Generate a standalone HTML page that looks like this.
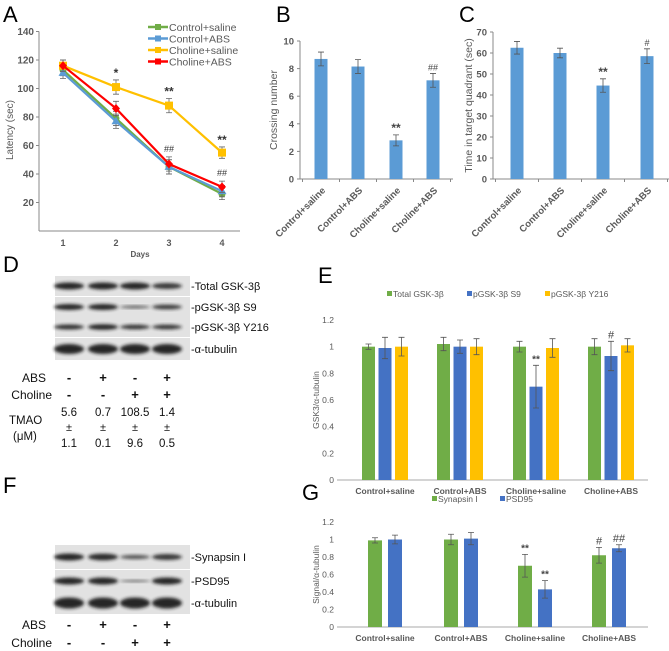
<!DOCTYPE html>
<html><head><meta charset="utf-8"><style>
html,body{margin:0;padding:0;background:#fff;}
svg{display:block;font-family:"Liberation Sans",Arial,sans-serif;}
</style></head><body>
<svg id="fig" width="669" height="651" viewBox="0 0 669 651">
<defs><filter id="blur" x="-20%" y="-50%" width="140%" height="200%"><feGaussianBlur stdDeviation="1.6"/></filter></defs>
<g font-size="22" fill="#000">
<text x="3" y="22">A</text>
<text x="276" y="22">B</text>
<text x="459" y="22">C</text>
<text x="3" y="272">D</text>
<text x="318" y="283">E</text>
<text x="3" y="493">F</text>
<text x="302" y="500">G</text>
</g>
<g id="gA"></g><g id="gB"></g><g id="gC"></g><g id="gD"></g><g id="gE"></g><g id="gF"></g><g id="gG"></g>
</svg>
<script>
// ---- Panel A data ----
const daysA = ["1","2","3","4"];
const ctrlSaline = [113, 79, 45, 26];
const ctrlABS = [111, 77, 45, 28];
const cholSaline = [116, 101, 88, 55];
const cholABS = [116, 86, 47, 31];
const errA = [4, 5, 5, 4];
const ticksA = [20,40,60,80,100,120,140];
// ---- Panel B/C ----
const groups = ["Control+saline","Control+ABS","Choline+saline","Choline+ABS"];
const crossing = [8.7, 8.15, 2.8, 7.15];
const crossingErr = [0.5, 0.5, 0.4, 0.5];
const crossingMarks = ["","","**","##"];
const ticksB = [0,2,4,6,8,10];
const timeQuad = [62.5, 60, 44.5, 58.5];
const timeQuadErr = [3, 2.3, 3.2, 3.5];
const timeMarks = ["","","**","#"];
const ticksC = [0,10,20,30,40,50,60,70];
// ---- Panel E ----
const totalGSK = [1.0, 1.02, 1.0, 1.0];
const totalGSKErr = [0.02, 0.05, 0.04, 0.06];
const pS9 = [0.99, 1.0, 0.7, 0.93];
const pS9Err = [0.08, 0.05, 0.16, 0.11];
const pY216 = [1.0, 1.0, 0.99, 1.01];
const pY216Err = [0.07, 0.06, 0.07, 0.05];
const s9Marks = ["","","**","#"];
const ticksE = [0,0.2,0.4,0.6,0.8,1,1.2];
// ---- Panel G ----
const synapsin = [0.99, 1.0, 0.7, 0.82];
const synapsinErr = [0.03, 0.06, 0.13, 0.09];
const psd95 = [1.0, 1.01, 0.43, 0.9];
const psd95Err = [0.05, 0.07, 0.1, 0.04];
const synMarks = ["","","**","#"];
const psdMarks = ["","","**","##"];
// ---- Panel D ----
const tmaoMean = ["5.6","0.7","108.5","1.4"];
const tmaoSD = ["1.1","0.1","9.6","0.5"];
const absSigns = ["-","+","-","+"];
const cholSigns = ["-","-","+","+"];

const NS="http://www.w3.org/2000/svg";
function mk(tag, parent, attrs, txt){
  const e=document.createElementNS(NS,tag);
  for(const k in attrs) e.setAttribute(k,attrs[k]);
  if(txt!==undefined) e.textContent=txt;
  parent.appendChild(e); return e;
}
const gray="#595959", axisc="#888";

// ===== Panel A =====
(function(){
  const g=document.getElementById('gA');
  const y0=231, ppu=28.5/20, x0=39, xEnd=240;
  const ya=v=>y0-v*ppu;
  const xa=i=>63+i*53;
  let e=mk('line',g,{x1:x0,y1:ya(140),x2:x0,y2:y0,stroke:axisc});
   
  e=mk('line',g,{x1:x0,y1:y0,x2:xEnd,y2:y0,stroke:axisc});
   
  ticksA.forEach(t=>{
    const tl=mk('text',g,{x:34,y:ya(t)+3.5,'font-size':10,'font-weight':'bold',fill:gray,'text-anchor':'end'},String(t));
     
    mk('line',g,{x1:x0-3,y1:ya(t),x2:x0,y2:ya(t),stroke:axisc});
  });
  daysA.forEach((d,i)=>{
    const tl=mk('text',g,{x:xa(i),y:246,'font-size':9,'font-weight':'bold',fill:gray,'text-anchor':'middle'},d);
     
  });
  e=mk('text',g,{x:140,y:257,'font-size':8,'font-weight':'bold',fill:gray,'text-anchor':'middle'},"Days");
   
  e=mk('text',g,{x:13,y:130,'font-size':10,fill:gray,'text-anchor':'middle',transform:'rotate(-90 13 130)'},"Latency (sec)");
   
  const series=[[ctrlSaline,'#70ad47','circle','control-saline'],[ctrlABS,'#5b9bd5','tri','control-abs'],[cholSaline,'#ffc000','square','choline-saline'],[cholABS,'#ff0000','diamond','choline-abs']];
  series.forEach(([vals,col,shape,nm])=>{
    const pts=vals.map((v,i)=>xa(i)+','+ya(v)).join(' ');
    const l=mk('polyline',g,{points:pts,fill:'none',stroke:col,'stroke-width':2.2});
     
    vals.forEach((v,i)=>{
      const x=xa(i),y=ya(v),ey=errA[i]*ppu;
      mk('path',g,{d:`M${x},${y-ey}V${y+ey}M${x-3},${y-ey}H${x+3}M${x-3},${y+ey}H${x+3}`,stroke:'#666','stroke-width':0.8,fill:'none'});
      let m;
      if(shape==='circle') m=mk('circle',g,{cx:x,cy:y,r:3.5,fill:col});
      else if(shape==='tri') m=mk('path',g,{d:`M${x},${y-4.5}L${x+4.5},${y+3}L${x-4.5},${y+3}Z`,fill:col});
      else if(shape==='square') m=mk('rect',g,{x:x-4,y:y-4,width:8,height:8,fill:col});
      else m=mk('path',g,{d:`M${x},${y-4.5}L${x+4},${y}L${x},${y+4.5}L${x-4},${y}Z`,fill:col});
       
    });
  });
  const marksA=[["",""],["*",""],["**","##"],["**","##"]];
  marksA.forEach((mm,i)=>{
    if(mm[0]){const t=mk('text',g,{x:xa(i),y:ya(cholSaline[i]+errA[i])-3,'font-size':12,'font-weight':'bold',fill:'#333','text-anchor':'middle'},mm[0]);
       }
    if(mm[1]){const t=mk('text',g,{x:xa(i),y:ya(cholABS[i]+errA[i])-5,'font-size':9,fill:'#333','text-anchor':'middle'},mm[1]);
       }
  });
  const leg=[['Control+saline','#70ad47'],['Control+ABS','#5b9bd5'],['Choline+saline','#ffc000'],['Choline+ABS','#ff0000']];
  leg.forEach(([t,c],i)=>{
    const y=27+i*11.5;
    mk('line',g,{x1:148,y1:y,x2:168,y2:y,stroke:c,'stroke-width':2.5});
    mk('rect',g,{x:155,y:y-3,width:6,height:6,fill:c});
    const tx=mk('text',g,{x:169,y:y+4,'font-size':10.5,fill:gray},t);
     
  });
})();

// ===== Simple bar panels B and C =====
function simpleBars(gid,prefix,vals,errs,marks,ticks,maxV,x0,x1,yTop,y0,centers,title,titleX){
  const g=document.getElementById(gid);
  const ya=v=>y0-(v/maxV)*(y0-yTop);
  let e=mk('line',g,{x1:x0,y1:yTop,x2:x0,y2:y0,stroke:axisc});
   
  e=mk('line',g,{x1:x0,y1:y0,x2:x1,y2:y0,stroke:axisc});
   
  ticks.forEach(t=>{
    mk('line',g,{x1:x0-3,y1:ya(t),x2:x0,y2:ya(t),stroke:axisc});
    const tl=mk('text',g,{x:x0-6,y:ya(t)+3.5,'font-size':9.5,'font-weight':'bold',fill:gray,'text-anchor':'end'},String(t));
     
  });
  const step=centers[1]-centers[0];
  for(let i=0;i<=4;i++){const xx=centers[0]-step/2+i*step; mk('line',g,{x1:xx,y1:y0,x2:xx,y2:y0+3,stroke:axisc});}
  vals.forEach((v,i)=>{
    const cx=centers[i];
    const b=mk('rect',g,{x:cx-6.5,y:ya(v),width:13,height:y0-ya(v),fill:'#5b9bd5'});
     
    const t=ya(v+errs[i]),bt=ya(v-errs[i]);
    mk('path',g,{d:`M${cx},${t}V${bt}M${cx-3},${t}H${cx+3}M${cx-3},${bt}H${cx+3}`,stroke:'#555','stroke-width':0.8,fill:'none'});
    if(marks[i]){const m=mk('text',g,{x:cx,y:t-3,'font-size':marks[i][0]==='*'?12:9,'font-weight':marks[i][0]==='*'?'bold':'normal',fill:'#444','text-anchor':'middle'},marks[i]);
       }
    const lx=cx+5,ly=y0+12;
    const l=mk('text',g,{x:lx,y:ly,'font-size':9.5,'font-weight':'bold',fill:gray,'text-anchor':'end',transform:`rotate(-45 ${lx} ${ly})`},groups[i]);
     
  });
  const ym=(yTop+y0)/2;
  e=mk('text',g,{x:titleX,y:ym,'font-size':10.5,fill:gray,'text-anchor':'middle',transform:`rotate(-90 ${titleX} ${ym})`},title);
   
}
simpleBars('gB','b',crossing,crossingErr,crossingMarks,ticksB,10,300,453,41,179,[321,358,396,433],'Crossing number',277);
simpleBars('gC','c',timeQuad,timeQuadErr,timeMarks,ticksC,70,493,669,32,179,[517,560,603,647],'Time in target quadrant (sec)',472);

// ===== Grouped bar panels E and G =====
function groupBars(gid,prefix,series,ticks,x0,x1,yTop,y0,centers,title,titleX,legY,legX){
  const g=document.getElementById(gid);
  const ya=v=>y0-(v/1.2)*(y0-yTop);
  let e=mk('line',g,{x1:x0,y1:y0,x2:x1,y2:y0,stroke:'#aaa'});
   
  ticks.forEach(t=>{
    const tl=mk('text',g,{x:x0-3,y:ya(t)+3,'font-size':8.5,fill:gray,'text-anchor':'end'},String(t));
     
  });
  const n=series.length, w=n===3?13:14, sp=n===3?16.5:20;
  series.forEach((s,si)=>{
    const off=(si-(n-1)/2)*sp;
    s.vals.forEach((v,i)=>{
      const cx=centers[i]+off;
      const b=mk('rect',g,{x:cx-w/2,y:ya(v),width:w,height:y0-ya(v),fill:s.color});
       
      const t=ya(v+s.err[i]),bt=ya(v-s.err[i]);
      mk('path',g,{d:`M${cx},${t}V${bt}M${cx-3},${t}H${cx+3}M${cx-3},${bt}H${cx+3}`,stroke:'#555','stroke-width':0.8,fill:'none'});
      if(s.marks&&s.marks[i]){const m=mk('text',g,{x:cx,y:t-3,'font-size':s.marks[i][0]==='*'?10:11,'font-weight':s.marks[i][0]==='*'?'bold':'normal',fill:'#444','text-anchor':'middle'},s.marks[i]);
         }
    });
  });
  groups.forEach((gname,i)=>{
    const l=mk('text',g,{x:centers[i],y:y0+14,'font-size':8.5,'font-weight':'bold',fill:gray,'text-anchor':'middle'},gname);
     
  });
  const ym=(yTop+y0)/2;
  e=mk('text',g,{x:titleX,y:ym,'font-size':8.5,fill:gray,'text-anchor':'middle',transform:`rotate(-90 ${titleX} ${ym})`},title);
   
  let lx=legX;
  series.forEach(s=>{
    mk('rect',g,{x:lx,y:legY-6,width:5,height:5,fill:s.color});
    const t=mk('text',g,{x:lx+6,y:legY,'font-size':8.5,fill:gray},s.label);
     
    lx+=s.legW;
  });
}
groupBars('gE','e',[
  {key:'total',label:'Total GSK-3β',color:'#70ad47',vals:totalGSK,err:totalGSKErr,legW:80},
  {key:'s9',label:'pGSK-3β  S9',color:'#4472c4',vals:pS9,err:pS9Err,marks:s9Marks,legW:78},
  {key:'y216',label:'pGSK-3β  Y216',color:'#ffc000',vals:pY216,err:pY216Err,legW:80}
],ticksE,337,648,320,480,[385,460,536,611],'GSK3/α-tubulin',319,297,387);
groupBars('gG','g',[
  {key:'synapsin',label:'Synapsin I',color:'#70ad47',vals:synapsin,err:synapsinErr,marks:synMarks,legW:68},
  {key:'psd95',label:'PSD95',color:'#4472c4',vals:psd95,err:psd95Err,marks:psdMarks,legW:50}
],ticksE,337,648,522,627,[385,461,535,609],'Signal/α-tubulin',319,502,432);

// ===== Blots =====
function blot(gid,prefix,rows,xL,xR,lanes,labelX){
  const g=document.getElementById(gid);
  rows.forEach(r=>{
    const bg=mk('rect',g,{x:xL,y:r.y-r.h/2,width:xR-xL,height:r.h,fill:'#e2e2e2'});
     
    lanes.forEach((lx,i)=>{
      const s=r.int[i];
      const b=mk('ellipse',g,{cx:lx,cy:r.y,rx:15,ry:r.bh*s,fill:'#1a1a1a',opacity:0.35+0.6*s,filter:'url(#blur)'});
       
    });
    const t=mk('text',g,{x:labelX,y:r.y+4,'font-size':11,fill:'#111'},r.label);
     
  });
}
const lanes=[69,103,135,167];
blot('gD','d',[
  {key:'total',y:286,h:20,bh:3.5,label:'-Total GSK-3β',int:[1,1,1,0.85]},
  {key:'s9',y:307,h:20,bh:3,label:'-pGSK-3β S9',int:[1,1,0.5,0.8]},
  {key:'y216',y:327,h:20,bh:2.8,label:'-pGSK-3β Y216',int:[0.9,1,0.85,0.85]},
  {key:'tubulin',y:349,h:22,bh:5,label:'-α-tubulin',int:[1,1,1,1]}
],55,190,lanes,191);
blot('gF','f',[
  {key:'synapsin',y:557,h:24,bh:3.5,label:'-Synapsin I',int:[1,0.95,0.6,0.85]},
  {key:'psd95',y:581,h:22,bh:3.5,label:'-PSD95',int:[1,1,0.35,1]},
  {key:'tubulin',y:603,h:22,bh:5.5,label:'-α-tubulin',int:[1,1,1,1]}
],55,190,lanes,191);

function signRows(gid,prefix,yAbs,yChol){
  const g=document.getElementById(gid);
  let t=mk('text',g,{x:46,y:yAbs+5,'font-size':12,fill:'#111','text-anchor':'end'},'ABS');
   
  t=mk('text',g,{x:52,y:yChol+5,'font-size':12,fill:'#111','text-anchor':'end'},'Choline');
   
  lanes.forEach((lx,i)=>{
    mk('text',g,{x:lx,y:yAbs+5,'font-size':13,'font-weight':'bold',fill:'#111','text-anchor':'middle'},absSigns[i]);
    mk('text',g,{x:lx,y:yChol+5,'font-size':13,'font-weight':'bold',fill:'#111','text-anchor':'middle'},cholSigns[i]);
  });
}
signRows('gD','d',377,394);
signRows('gF','f',624,642);
(function(){
  const g=document.getElementById('gD');
  let t=mk('text',g,{x:9,y:424,'font-size':11.5,fill:'#111'},'TMAO');
   
  t=mk('text',g,{x:13,y:440,'font-size':11.5,fill:'#111'},'(μM)');
   
  lanes.forEach((lx,i)=>{
    let a=mk('text',g,{x:lx,y:416,'font-size':11.5,fill:'#111','text-anchor':'middle'},tmaoMean[i]);
     
    mk('text',g,{x:lx,y:431,'font-size':11,fill:'#111','text-anchor':'middle'},'±');
    a=mk('text',g,{x:lx,y:447,'font-size':11.5,fill:'#111','text-anchor':'middle'},tmaoSD[i]);
     
  });
})();
</script>
</body></html>
